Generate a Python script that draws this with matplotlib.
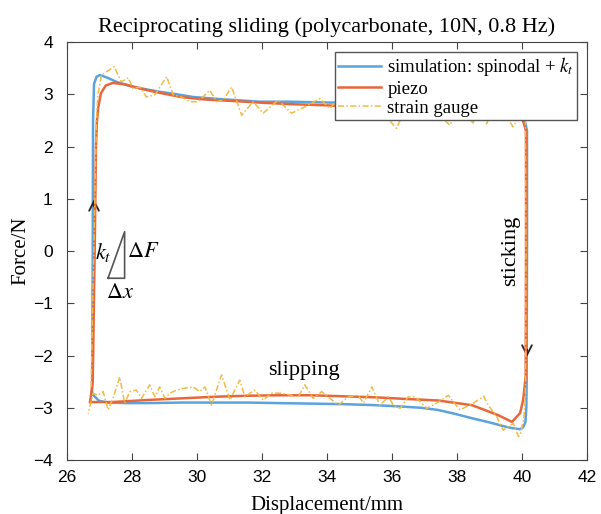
import numpy as np
import matplotlib.pyplot as plt

plt.rcParams['mathtext.fontset'] = 'stix'

# simulation: spinodal + k_t (closed loop)
sim_x = [26.78, 26.80, 26.81, 26.84, 26.92, 27.02, 27.25, 27.53, 28.0, 28.5, 28.86,
         29.4, 29.89, 30.5, 31.2, 31.94, 32.8, 33.6, 34.4, 35.5, 36.5, 37.5, 38.5,
         39.3, 39.8, 40.05, 40.15, 40.15, 40.14, 40.13, 40.10, 40.02, 39.94, 39.7,
         39.48, 39.0, 38.46, 37.9, 37.4, 36.9, 36.4, 35.5, 34.5, 33.5, 32.5, 31.6,
         30.5, 29.5, 28.5, 27.8, 27.3, 27.0, 26.85, 26.78]
sim_y = [-2.72, 0.0, 2.5, 3.2, 3.34, 3.37, 3.32, 3.24, 3.15, 3.09, 3.05,
         3.0, 2.95, 2.92, 2.89, 2.86, 2.86, 2.85, 2.84, 2.82, 2.80, 2.78, 2.76,
         2.73, 2.70, 2.6, 2.3, 0.0, -2.5, -3.0, -3.28, -3.38, -3.41, -3.39,
         -3.36, -3.28, -3.20, -3.11, -3.04, -3.0, -2.98, -2.95, -2.93, -2.92, -2.91, -2.90,
         -2.90, -2.90, -2.91, -2.91, -2.90, -2.87, -2.78, -2.72]

# piezo
pz_x = [26.72, 26.80, 26.86, 26.90, 26.93, 26.97, 27.05, 27.2, 27.42, 27.8, 28.2,
        28.7, 29.5, 30.3, 31.2, 32.0, 33.0, 34.0, 35.0, 36.0, 37.0, 38.0, 39.0,
        39.7, 40.0, 40.12, 40.12, 40.11, 40.06, 40.03, 39.94, 39.69, 39.26, 38.46,
        37.42, 36.4, 35.5, 34.5, 33.5, 32.5, 31.5, 30.5, 29.5, 28.5, 27.4, 26.72]
pz_y = [-2.89, -2.5, 0.0, 2.0, 2.5, 2.75, 3.02, 3.17, 3.22, 3.19, 3.12,
        3.05, 2.95, 2.90, 2.87, 2.84, 2.81, 2.79, 2.76, 2.74, 2.71, 2.68, 2.65,
        2.62, 2.55, 2.3, 0.0, -2.4, -2.7, -2.85, -3.10, -3.27, -3.14, -2.95,
        -2.86, -2.83, -2.80, -2.78, -2.76, -2.76, -2.77, -2.79, -2.82, -2.85, -2.89, -2.89]

# strain gauge
sg_x = [26.75, 26.80, 26.88, 26.92, 26.96, 27.07, 27.46, 27.68, 27.89, 28.04, 28.25,
        28.45, 28.71, 29.07, 29.27, 29.53, 29.78, 30.04, 30.40, 30.61, 30.81, 31.07,
        31.38, 31.73, 32.04, 32.50, 32.91, 33.32, 33.78, 34.09, 34.4, 34.8, 35.2,
        35.7, 36.14, 36.5, 36.9, 37.3, 37.78, 38.1, 38.49, 38.7, 38.91, 39.2, 39.5,
        39.72, 39.95, 40.10, 40.12, 40.11, 40.10, 40.05, 39.95, 39.89, 39.8, 39.73,
        39.6, 39.42, 39.22, 38.96, 38.82, 38.65, 38.45, 38.09, 37.9, 37.73, 37.4,
        37.07, 36.71, 36.50, 36.25, 36.04, 35.89, 35.63, 35.38, 35.12, 34.96, 34.66,
        34.35, 33.84, 33.58, 33.32, 33.12, 32.61, 32.30, 32.04, 31.78, 31.48, 31.32,
        31.02, 30.76, 30.45, 30.25, 30.09, 29.89, 29.58, 29.38, 29.17, 29.02, 28.86,
        28.71, 28.55, 28.30, 28.14, 27.94, 27.78, 27.63, 27.42, 27.27, 27.12, 26.96,
        26.81, 26.66]
sg_y = [-2.6, -1.0, 1.5, 2.6, 3.0, 3.37, 3.53, 3.24, 3.32, 3.11, 3.14,
        2.95, 2.99, 3.34, 2.99, 2.95, 2.86, 2.86, 3.08, 2.86, 2.89, 3.14,
        2.60, 2.86, 2.64, 2.89, 2.64, 2.76, 2.92, 2.73, 2.95, 2.70, 2.95,
        2.65, 2.35, 2.85, 2.95, 2.70, 2.41, 2.80, 2.45, 2.75, 2.44, 2.85, 2.60,
        2.38, 2.60, 2.50, 0.0, -2.0, -2.8, -3.2, -3.5, -3.55, -3.42, -3.30,
        -3.35, -3.43, -3.17, -2.95, -2.78, -2.85, -2.93, -3.04, -2.90, -2.76, -2.90,
        -3.01, -2.79, -2.79, -3.01, -2.95, -2.79, -2.95, -2.60, -2.91, -2.76, -2.79,
        -2.95, -2.69, -2.82, -2.56, -2.79, -2.72, -2.72, -2.85, -2.66, -2.79, -2.47,
        -2.85, -2.37, -2.95, -2.60, -2.69, -2.60, -2.63, -2.66, -2.72, -2.82, -2.60,
        -2.79, -2.56, -2.82, -2.66, -2.69, -2.91, -2.41, -2.82, -3.04, -2.69, -2.76,
        -2.72, -3.11]

# k_t triangle
tri_x = [27.27, 27.78, 27.78, 27.27]
tri_y = [-0.52, 0.37, -0.52, -0.52]

serif = 'Liberation Serif'
sans = 'Liberation Sans'

fig = plt.figure(figsize=(6.01, 5.14), dpi=100)
ax = fig.add_axes([0.111, 0.105, 0.866, 0.813])

ax.plot(sim_x, sim_y, color='#5ba3dc', lw=1.8, label=r'simulation: spinodal + $k_t$', zorder=3)
ax.plot(pz_x, pz_y, color='#e8673a', lw=1.8, label='piezo', zorder=4)
ax.plot(sg_x, sg_y, color='#f0ba45', lw=1.1, ls=(0, (4, 1.5, 1, 1.5)), label='strain gauge', zorder=5)

ax.plot(tri_x, tri_y, color='#555555', lw=1.2)
ax.text(27.38, -0.02, r'$k_t$', fontsize=16, ha='right', va='center', family=serif)
ax.text(27.85, -0.02, r'$\Delta F$', fontsize=16, ha='left', va='center', family=serif)
ax.text(27.65, -0.82, r'$\Delta x$', fontsize=16, ha='center', va='center', family=serif)

ax.annotate('', xy=(26.84, 1.05), xytext=(26.84, 0.8),
            arrowprops=dict(arrowstyle='->,head_length=0.7,head_width=0.35', color='#222222', lw=1.3))
ax.annotate('', xy=(40.15, -2.08), xytext=(40.15, -1.83),
            arrowprops=dict(arrowstyle='->,head_length=0.7,head_width=0.35', color='#222222', lw=1.3))

ax.text(39.66, 0.0, 'sticking', rotation=90, fontsize=16, ha='center', va='center', family=serif)
ax.text(33.3, -2.28, 'slipping', fontsize=16, ha='center', va='center', family=serif)

ax.set_xlim(26, 42)
ax.set_ylim(-4, 4)
ax.set_xticks(np.arange(26, 43, 2))
ax.set_yticks(np.arange(-4, 5, 1))
ax.tick_params(direction='in', top=True, right=True, length=5, labelsize=12.5,
               color='#444444', pad=7)
ax.tick_params(axis='y', pad=10)
for lab in ax.get_xticklabels() + ax.get_yticklabels():
    lab.set_family(sans)
for s in ax.spines.values():
    s.set_color('#444444')

ax.set_title('Reciprocating sliding (polycarbonate, 10N, 0.8 Hz)', fontsize=16, family=serif, pad=7)
ax.set_xlabel('Displacement/mm', fontsize=15, family=serif, labelpad=8)
ax.set_ylabel('Force/N', fontsize=15, family=serif, labelpad=2)

leg = ax.legend(loc='upper right', prop={'family': serif, 'size': 13.5}, fancybox=False,
                framealpha=1, edgecolor='#555555', handlelength=2.3, borderpad=0.15,
                labelspacing=0.12, handletextpad=0.35, borderaxespad=0.55)
leg.get_frame().set_linewidth(1.0)

plt.savefig('out.png', dpi=100)
